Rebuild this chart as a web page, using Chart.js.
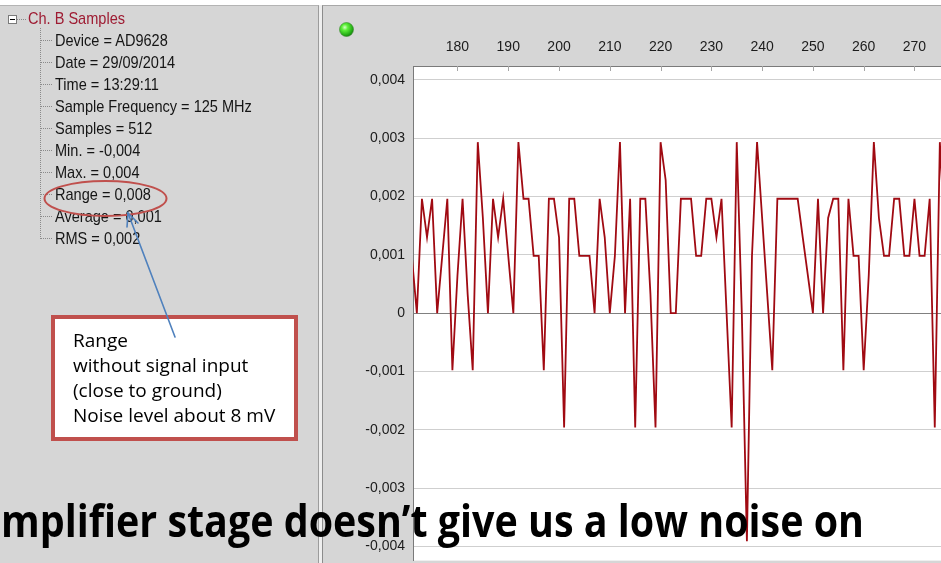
<!DOCTYPE html>
<html>
<head>
<meta charset="utf-8">
<script src="https://cdn.jsdelivr.net/npm/chart.js@4/dist/chart.umd.min.js"></script>
<style>
  html, body { margin: 0; padding: 0; width: 941px; height: 563px; overflow: hidden; background: #ffffff; }
  #leftPanel { position: absolute; left: 0; top: 5px; width: 318px; height: 558px; background: #d6d6d6; border-top: 1px solid #b4b4b4; border-right: 1px solid #9c9c9c; }
  #splitter { position: absolute; left: 319px; top: 5px; width: 3px; height: 558px; background: #efefef; }
  #rightPanel { position: absolute; left: 322px; top: 5px; width: 619px; height: 558px; background: #d6d6d6; border-top: 1px solid #a8a8a8; border-left: 1px solid #8c8c8c; }
  #plotBox { position: absolute; left: 323px; top: 0; width: 640px; height: 577px; z-index: 1; }
  #overlay { position: absolute; left: 0; top: 0; z-index: 2; pointer-events: none; }
</style>
</head>
<body>
<div id="leftPanel"></div>
<div id="splitter"></div>
<div id="rightPanel"></div>
<div id="plotBox"><canvas id="scope" width="640" height="577" style="width:640px;height:577px"></canvas></div>

<svg id="overlay" width="941" height="563" xmlns="http://www.w3.org/2000/svg">
  <defs>
    <radialGradient id="ledGlow" cx="0.38" cy="0.35" r="0.7">
      <stop offset="0" stop-color="#d8ffc8"/>
      <stop offset="0.3" stop-color="#5ef03a"/>
      <stop offset="0.8" stop-color="#22a814"/>
      <stop offset="1" stop-color="#167a0e"/>
    </radialGradient>
  </defs>

  <!-- status LED -->
  <circle cx="346.5" cy="29.5" r="7" fill="url(#ledGlow)" stroke="#3c8a30" stroke-width="0.6"/>

  <!-- tree view -->
  <g stroke="#8a8a8a" stroke-width="1" stroke-dasharray="1,1" fill="none">
    <line x1="17" y1="19.5" x2="26" y2="19.5"/>
    <line x1="40.5" y1="28" x2="40.5" y2="239"/>
    <line x1="41" y1="40.5" x2="52" y2="40.5"/>
    <line x1="41" y1="62.5" x2="52" y2="62.5"/>
    <line x1="41" y1="84.5" x2="52" y2="84.5"/>
    <line x1="41" y1="106.5" x2="52" y2="106.5"/>
    <line x1="41" y1="128.5" x2="52" y2="128.5"/>
    <line x1="41" y1="150.5" x2="52" y2="150.5"/>
    <line x1="41" y1="172.5" x2="52" y2="172.5"/>
    <line x1="41" y1="194.5" x2="52" y2="194.5"/>
    <line x1="41" y1="216.5" x2="52" y2="216.5"/>
    <line x1="41" y1="238.5" x2="52" y2="238.5"/>
  </g>
  <rect x="8.5" y="15.5" width="8" height="8" fill="#ffffff" stroke="#7a7a7a" stroke-width="1"/>
  <line x1="10" y1="19.5" x2="15" y2="19.5" stroke="#000000" stroke-width="1"/>

  <g font-family="'Liberation Sans', Arial, sans-serif" font-size="16" fill="#151515">
    <g transform="translate(28,0) scale(0.91,1)">
      <text x="0" y="24.5" fill="#9e1b32">Ch. B Samples</text>
    </g>
    <g transform="translate(55,0) scale(0.91,1)">
      <text x="0" y="46">Device = AD9628</text>
      <text x="0" y="68">Date = 29/09/2014</text>
      <text x="0" y="90">Time = 13:29:11</text>
      <text x="0" y="112">Sample Frequency = 125 MHz</text>
      <text x="0" y="134">Samples = 512</text>
      <text x="0" y="156">Min. = -0,004</text>
      <text x="0" y="178">Max. = 0,004</text>
      <text x="0" y="200">Range = 0,008</text>
      <text x="0" y="222">Average = 0,001</text>
      <text x="0" y="244">RMS = 0,002</text>
    </g>
  </g>

  <!-- callout: ellipse, note box and arrow -->
  <ellipse cx="105.5" cy="198.5" rx="61" ry="17.5" fill="none" stroke="#c0504d" stroke-width="2"/>
  <rect x="53" y="317" width="243" height="122" fill="#ffffff" stroke="#c0504d" stroke-width="4"/>
  <g font-family="'Open Sans', sans-serif" font-size="19" fill="#000000">
    <text x="73" y="347">Range</text>
    <text x="73" y="372">without signal input</text>
    <text x="73" y="397">(close to ground)</text>
    <text x="73" y="422">Noise level about 8 mV</text>
  </g>
  <g stroke="#4f81bd" stroke-width="1.6" fill="none" stroke-linecap="round">
    <line x1="175" y1="337" x2="128" y2="213"/>
    <polyline points="138,223 128,213 127,227"/>
  </g>

  <!-- slide caption running across the bottom -->
  <text x="1" y="537" font-family="'Open Sans', sans-serif" font-weight="700" font-size="44" fill="#000000"
        textLength="863" lengthAdjust="spacingAndGlyphs">mplifier stage doesn’t give us a low noise on</text>
</svg>

<script>
// Channel B record, samples 171..276 (volts)
const sampleNumbers = [
  171, 172, 173, 174, 175, 176, 177, 178, 179, 180,
  181, 182, 183, 184, 185, 186, 187, 188, 189, 190,
  191, 192, 193, 194, 195, 196, 197, 198, 199, 200,
  201, 202, 203, 204, 205, 206, 207, 208, 209, 210,
  211, 212, 213, 214, 215, 216, 217, 218, 219, 220,
  221, 222, 223, 224, 225, 226, 227, 228, 229, 230,
  231, 232, 233, 234, 235, 236, 237, 238, 239, 240,
  241, 242, 243, 244, 245, 246, 247, 248, 249, 250,
  251, 252, 253, 254, 255, 256, 257, 258, 259, 260,
  261, 262, 263, 264, 265, 266, 267, 268, 269, 270,
  271, 272, 273, 274, 275, 276
];
const channelB = [
  0.00098, 0.00000, 0.00196, 0.00130, 0.00196, 0.00000, 0.00098, 0.00196, -0.00098, 0.00065,
  0.00196, 0.00033, -0.00098, 0.00293, 0.00163, 0.00000, 0.00196, 0.00130, 0.00196, 0.00098,
  0.00000, 0.00293, 0.00196, 0.00196, 0.00098, 0.00098, -0.00098, 0.00196, 0.00196, 0.00130,
  -0.00196, 0.00196, 0.00196, 0.00098, 0.00098, 0.00098, 0.00000, 0.00196, 0.00130, 0.00000,
  0.00098, 0.00293, 0.00000, 0.00196, -0.00196, 0.00196, 0.00196, 0.00033, -0.00196, 0.00293,
  0.00228, 0.00000, 0.00000, 0.00196, 0.00196, 0.00196, 0.00098, 0.00098, 0.00196, 0.00196,
  0.00130, 0.00196, 0.00000, -0.00196, 0.00293, 0.00000, -0.00391, 0.00098, 0.00293, 0.00163,
  0.00033, -0.00098, 0.00196, 0.00196, 0.00196, 0.00196, 0.00196, 0.00130, 0.00065, 0.00000,
  0.00196, 0.00000, 0.00163, 0.00196, 0.00196, -0.00098, 0.00196, 0.00098, 0.00098, -0.00098,
  0.00065, 0.00293, 0.00163, 0.00098, 0.00098, 0.00196, 0.00196, 0.00098, 0.00098, 0.00196,
  0.00098, 0.00098, 0.00196, -0.00196, 0.00293, 0.00130
];
const xTicks = [180, 190, 200, 210, 220, 230, 240, 250, 260, 270];
const yTicks = [-0.004, -0.003, -0.002, -0.001, 0, 0.001, 0.002, 0.003, 0.004];

// visible window of the scope view
const X_MIN = 171.24, X_MAX = 277.0;
const Y_MIN = -0.004241, Y_MAX = 0.004235;

const labelFont = { family: "'Liberation Sans', Arial, sans-serif", size: 14 };

function commaDecimal(v) {
  if (v === 0) return '0';
  return v.toFixed(3).replace('.', ',');
}

// white plotting surface behind the trace
const plotSurface = {
  id: 'plotSurface',
  beforeDraw(chart) {
    const { ctx, chartArea: a } = chart;
    ctx.save();
    ctx.fillStyle = '#ffffff';
    ctx.fillRect(a.left, a.top, a.right - a.left, a.bottom - a.top);
    ctx.restore();
  }
};

// short tick marks hanging down from the top edge of the plot
const topTickMarks = {
  id: 'topTickMarks',
  beforeDatasetsDraw(chart) {
    const { ctx, chartArea: a, scales: { x } } = chart;
    ctx.save();
    ctx.strokeStyle = '#a6a6a6';
    ctx.lineWidth = 1;
    x.ticks.forEach(t => {
      const px = Math.round(x.getPixelForValue(t.value)) + 0.5;
      ctx.beginPath();
      ctx.moveTo(px, a.top);
      ctx.lineTo(px, a.top + 5);
      ctx.stroke();
    });
    ctx.restore();
  }
};

new Chart(document.getElementById('scope'), {
  type: 'line',
  data: {
    datasets: [{
      data: sampleNumbers.map((s, i) => ({ x: s, y: channelB[i] })),
      borderColor: '#a00a12',
      borderWidth: 1.8,
      pointRadius: 0,
      tension: 0,
      fill: false
    }]
  },
  options: {
    responsive: false,
    animation: false,
    events: [],
    layout: { padding: { left: 0, top: 0, right: 13, bottom: 0 } },
    plugins: { legend: { display: false }, tooltip: { enabled: false } },
    scales: {
      x: {
        type: 'linear',
        position: 'top',
        min: X_MIN,
        max: X_MAX,
        afterBuildTicks: s => { s.ticks = xTicks.map(v => ({ value: v })); },
        afterFit: s => { s.height = 66; },
        ticks: { font: labelFont, color: '#1c1c1c', padding: 10, maxRotation: 0, autoSkip: false },
        grid: { drawOnChartArea: false, drawTicks: false },
        border: { display: true, color: '#7a7a7a', width: 1 }
      },
      y: {
        type: 'linear',
        min: Y_MIN,
        max: Y_MAX,
        afterBuildTicks: s => { s.ticks = yTicks.map(v => ({ value: v })); },
        afterFit: s => { s.width = 90; },
        ticks: { font: labelFont, color: '#1c1c1c', padding: 8, autoSkip: false, callback: v => commaDecimal(v) },
        grid: {
          drawTicks: false,
          lineWidth: 1,
          color: c => (c.tick && c.tick.value === 0) ? '#808080' : '#cfcfcf'
        },
        border: { display: true, color: '#7a7a7a', width: 1 }
      }
    }
  },
  plugins: [plotSurface, topTickMarks]
});
</script>
</body>
</html>
